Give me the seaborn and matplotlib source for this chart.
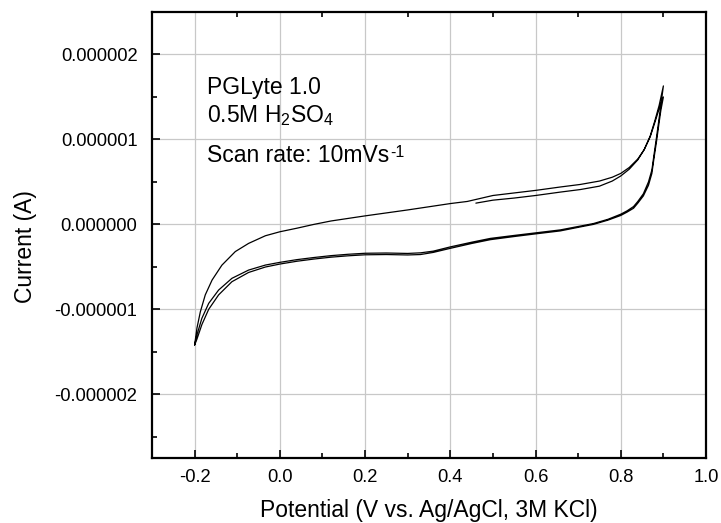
import matplotlib
matplotlib.use("Agg")
import matplotlib.pyplot as plt
from matplotlib.ticker import MultipleLocator, FormatStrFormatter
import numpy as np
import pandas as pd
import seaborn as sns

# Potential (V) and current (uA), sweep by sweep
E_start = [0.46, 0.50, 0.55, 0.60, 0.658, 0.705, 0.75, 0.78, 0.80, 0.82, 0.84,
           0.855, 0.869, 0.88, 0.89, 0.90]
I_start = [0.25, 0.285, 0.31, 0.34, 0.38, 0.41, 0.45, 0.51, 0.57, 0.65, 0.76,
           0.88, 1.04, 1.22, 1.40, 1.63]

E_cath1 = [0.894, 0.89, 0.884, 0.878, 0.873, 0.865, 0.853, 0.84, 0.83, 0.815, 0.80,
           0.77, 0.736, 0.705, 0.658, 0.60, 0.55, 0.494, 0.45, 0.40, 0.36, 0.33,
           0.30, 0.25, 0.20, 0.16, 0.12, 0.08, 0.04, 0.0, -0.034, -0.0734, -0.1125,
           -0.1437, -0.167, -0.183, -0.1945, -0.20]
I_cath1 = [1.40, 1.25, 1.03, 0.82, 0.64, 0.50, 0.36, 0.27, 0.21, 0.16, 0.12,
           0.06, 0.01, -0.02, -0.065, -0.10, -0.13, -0.165, -0.21, -0.265, -0.315, -0.335,
           -0.342, -0.337, -0.34, -0.352, -0.368, -0.39, -0.415, -0.447, -0.479, -0.538, -0.635,
           -0.773, -0.93, -1.106, -1.30, -1.42]

E_anod2 = [-0.1945, -0.1866, -0.175, -0.159, -0.136, -0.1045, -0.0734, -0.034, 0.0,
           0.04, 0.08, 0.12, 0.20, 0.30, 0.40, 0.44, 0.47, 0.50, 0.55, 0.60, 0.658,
           0.705, 0.75, 0.78, 0.80, 0.82, 0.84, 0.855, 0.869, 0.88, 0.89, 0.90]
I_anod2 = [-1.22, -1.03, -0.83, -0.655, -0.48, -0.32, -0.224, -0.134, -0.087,
           -0.045, 0.0, 0.04, 0.10, 0.17, 0.245, 0.27, 0.305, 0.34, 0.37, 0.40, 0.44,
           0.47, 0.51, 0.555, 0.60, 0.67, 0.77, 0.88, 1.03, 1.20, 1.36, 1.50]

E_cath2 = [0.894, 0.89, 0.884, 0.878, 0.873, 0.865, 0.853, 0.84, 0.83, 0.815, 0.80,
           0.77, 0.736, 0.705, 0.658, 0.60, 0.55, 0.494, 0.45, 0.40, 0.36, 0.33,
           0.30, 0.25, 0.20, 0.16, 0.12, 0.08, 0.04, 0.0, -0.034, -0.0734, -0.1125,
           -0.1437, -0.167, -0.183, -0.1945, -0.20]
I_cath2 = [1.34, 1.20, 0.98, 0.78, 0.60, 0.46, 0.335, 0.25, 0.19, 0.145, 0.105,
           0.05, 0.0, -0.03, -0.077, -0.112, -0.143, -0.18, -0.225, -0.282, -0.33, -0.355,
           -0.36, -0.355, -0.358, -0.37, -0.386, -0.408, -0.434, -0.467, -0.502, -0.566, -0.675,
           -0.83, -1.0, -1.18, -1.35, -1.42]

segments = [(E_start, I_start), (E_cath1, I_cath1), (E_anod2, I_anod2), (E_cath2, I_cath2)]
pot = []
cur = []
for e, i in segments:
    pot += e
    cur += i
df = pd.DataFrame({"Potential": pot, "Current": np.array(cur) * 1e-6})

sns.set_style("white")
plt.rcParams["font.family"] = ["Liberation Sans", "DejaVu Sans"]
plt.rcParams["mathtext.fontset"] = "custom"
plt.rcParams["mathtext.rm"] = "Liberation Sans"
plt.rcParams["mathtext.it"] = "Liberation Sans:italic"
for key in ["text.color", "axes.labelcolor", "xtick.color", "ytick.color"]:
    plt.rcParams[key] = "black"

fig = plt.figure(figsize=(7.21, 5.23), dpi=100)
ax = fig.add_axes([152 / 721, 1 - 458 / 523, (706 - 152) / 721, (458 - 12) / 523])

sns.lineplot(data=df, x="Potential", y="Current", sort=False, estimator=None,
             color="black", linewidth=0.9, ax=ax)

ax.set_xlim(-0.3, 1.0)
ax.set_ylim(-2.75e-6, 2.5e-6)
ax.xaxis.set_major_locator(MultipleLocator(0.2))
ax.xaxis.set_minor_locator(MultipleLocator(0.1))
ax.yaxis.set_major_locator(MultipleLocator(1e-6))
ax.yaxis.set_minor_locator(MultipleLocator(0.5e-6))
ax.xaxis.set_major_formatter(FormatStrFormatter("%.1f"))
ax.yaxis.set_major_formatter(FormatStrFormatter("%.6f"))

ax.grid(True, which="major", color="#c8c8c8", linewidth=0.9)
ax.set_axisbelow(True)
for s in ax.spines.values():
    s.set_linewidth(1.6)
    s.set_color("black")

ax.tick_params(which="major", direction="in", length=6, width=1.2, labelsize=13.2,
               left=True, bottom=True, top=False, right=False)
ax.tick_params(axis="x", which="major", pad=8)
ax.tick_params(axis="y", which="major", pad=10.5)
ax.tick_params(which="minor", direction="in", length=3.5, width=1.2,
               left=True, bottom=True, top=True, right=False)

ax.set_xlabel("Potential (V vs. Ag/AgCl, 3M KCl)", fontsize=16.5, labelpad=9)
ax.set_ylabel("Current (A)", fontsize=16.5)
ax.yaxis.set_label_coords(-0.207, 0.473)

ax.text(0.1, 0.816, "PGLyte 1.0", transform=ax.transAxes, fontsize=16.5, va="baseline")
ax.text(0.1, 0.754, r"0.5M H$_2$SO$_4$", transform=ax.transAxes, fontsize=16.5, va="baseline")
t = ax.text(0.1, 0.664, "Scan rate: 10mVs", transform=ax.transAxes, fontsize=16.5, va="baseline")
ax.annotate("-1", xy=(1, 1), xycoords=t, xytext=(0.5, -1), textcoords="offset points",
            fontsize=11.5, ha="left", va="top")

fig.savefig("out.png", dpi=100)
